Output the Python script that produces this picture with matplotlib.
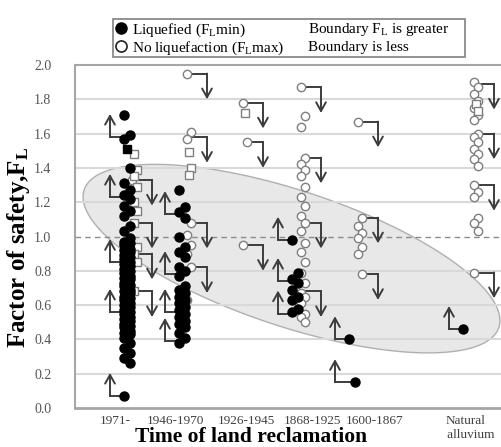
import numpy as np
import matplotlib.pyplot as plt
from matplotlib.lines import Line2D
from matplotlib.patches import Rectangle, Polygon

plt.rcParams['font.family'] = ['Liberation Serif', 'DejaVu Serif']
plt.rcParams['mathtext.fontset'] = 'custom'
plt.rcParams['mathtext.rm'] = 'Liberation Serif'
plt.rcParams['mathtext.it'] = 'Liberation Serif:italic'
plt.rcParams['mathtext.bf'] = 'Liberation Serif:bold'

# categories and where their labels / columns sit on the x axis
categories = ['1971-', '1946-1970', '1926-1945', '1868-1925', '1600-1867', 'Natural\n   alluvium']
label_x = [0.80, 2.00, 3.42, 4.74, 6.00, 7.82]
liq_x = [1.04, 2.14, 3.40, 4.40, 5.54, 7.82]
noliq_x = [1.18, 2.28, 3.40, 4.56, 5.70, 8.02]

# liquefied sites (F_L min), filled circles
liq_vals = [
    [1.71, 1.59, 1.57, 1.40, 1.31, 1.27, 1.24, 1.22, 1.18, 1.15, 1.12, 1.06, 1.03, 0.99,
     0.97, 0.96, 0.95, 0.93, 0.92, 0.91, 0.89, 0.88, 0.87, 0.85, 0.84, 0.83, 0.81, 0.80,
     0.79, 0.77, 0.76, 0.75, 0.73, 0.72, 0.71, 0.69, 0.68, 0.67, 0.65, 0.64, 0.63, 0.61,
     0.60, 0.59, 0.57, 0.56, 0.55, 0.53, 0.52, 0.51, 0.49, 0.48, 0.47, 0.45, 0.44, 0.43,
     0.41, 0.38, 0.35, 0.32, 0.29, 0.26, 0.07],
    [1.27, 1.17, 1.14, 1.11, 1.00, 0.94, 0.91, 0.88, 0.82, 0.80, 0.77, 0.71, 0.69, 0.67,
     0.65, 0.63, 0.61, 0.59, 0.57, 0.55, 0.53, 0.51, 0.49, 0.47, 0.44, 0.41, 0.38],
    [],
    [0.98, 0.79, 0.75, 0.73, 0.69, 0.65, 0.63, 0.58, 0.56],
    [0.40, 0.15],
    [0.46],
]
liq_sq = [[1.51], [], [], [], [], []]

# non-liquefied sites (F_L max), open circles / squares
noliq_vals = [
    [1.33],
    [1.95, 1.61, 1.57, 1.08, 1.01, 0.95, 0.90, 0.82, 0.63],
    [1.78, 1.55, 0.95],
    [1.87, 1.70, 1.64, 1.46, 1.42, 1.39, 1.35, 1.29, 1.23, 1.18, 1.12, 1.08, 1.03, 0.96,
     0.91, 0.85, 0.79, 0.73, 0.67, 0.65, 0.61, 0.55, 0.53, 0.50],
    [1.67, 1.11, 1.06, 1.02, 0.99, 0.94, 0.90, 0.78],
    [1.90, 1.87, 1.83, 1.79, 1.75, 1.71, 1.68, 1.60, 1.58, 1.55, 1.51, 1.48, 1.45, 1.41,
     1.30, 1.26, 1.23, 1.11, 1.08, 1.03, 0.79],
]
noliq_sq = [
    [1.48, 1.39, 1.35, 1.29, 1.20, 1.15, 1.08, 0.94, 0.90, 0.85, 0.68],
    [1.49, 1.40, 1.36],
    [1.72],
    [],
    [],
    [1.77, 1.73],
]

# boundary arrows: "greater" (up, from liquefied) and "less" (down, from non-liquefied)
up_from = [[1.58, 1.23, 0.85, 0.56, 0.07], [1.13, 0.78, 0.56, 0.39], [],
           [0.98, 0.74, 0.55], [0.40, 0.15], [0.46]]
down_from = [[1.33, 1.08, 0.90, 0.68], [1.95, 1.58, 1.08, 0.82], [1.78, 1.55, 0.95],
             [1.87, 1.46, 1.08, 0.68], [1.67, 1.11, 0.78], [1.89, 1.60, 1.30, 0.79]]

fig = plt.figure(figsize=(5.02, 4.47), dpi=100)
ax = fig.add_axes([75 / 502, 39 / 447, 430 / 502, 343 / 447])
ax.set_xlim(0, 8.6)
ax.set_ylim(0, 2.0)

# grey ellipse marking the bulk of the liquefied data
t = np.linspace(0, 2 * np.pi, 300)
th = np.radians(18.3)
a, b = 218.4, 67.7
ex = 4.33 + (a * np.cos(t) * np.cos(th) - b * np.sin(t) * np.sin(th)) / 50.0
ey = 0.871 - (a * np.cos(t) * np.sin(th) + b * np.sin(t) * np.cos(th)) / 171.0
ax.add_patch(Polygon(np.column_stack([ex, ey]), closed=True, fc='#e8e8e8', ec='#b0b0b0',
                     lw=1.0, zorder=1))

for yv in np.arange(0.2, 2.0, 0.2):
    if abs(yv - 1.0) > 1e-6:
        ax.axhline(yv, color='#d9d9d9', lw=1.5, zorder=1.5)
ax.axhline(1.0, color='#8c8c8c', lw=1.0, ls=(0, (4, 3)), zorder=1.6)

arrow_c = '#3c3c3c'
for i in range(len(categories)):
    for v in up_from[i]:
        xs = liq_x[i] - 0.34
        ax.plot([liq_x[i], xs], [v, v], color=arrow_c, lw=1.4, zorder=3)
        ax.annotate('', xy=(xs, v + 0.135), xytext=(xs, v),
                    arrowprops=dict(arrowstyle='->,head_length=0.45,head_width=0.25',
                                    color=arrow_c, lw=1.4, shrinkA=0, shrinkB=0,
                                    mutation_scale=14), zorder=3)
    for v in down_from[i]:
        xs = noliq_x[i] + 0.36
        ax.plot([noliq_x[i], xs], [v, v], color=arrow_c, lw=1.4, zorder=3)
        ax.annotate('', xy=(xs, v - 0.15), xytext=(xs, v),
                    arrowprops=dict(arrowstyle='->,head_length=0.45,head_width=0.25',
                                    color=arrow_c, lw=1.4, shrinkA=0, shrinkB=0,
                                    mutation_scale=14), zorder=3)

    n = len(noliq_vals[i])
    ax.plot(noliq_x[i] + np.resize([-0.04, 0.04], n), noliq_vals[i], 'o', ms=6,
            mfc='white', mec='#7f7f7f', mew=1.0, zorder=4)
    n = len(noliq_sq[i])
    ax.plot(noliq_x[i] + np.resize([0.0, 0.05], n), noliq_sq[i], 's', ms=5.5,
            mfc='white', mec='#7f7f7f', mew=1.0, zorder=4)
    n = len(liq_vals[i])
    ax.plot(liq_x[i] + np.resize([-0.06, 0.06], n), liq_vals[i], 'o', ms=6.5,
            mfc='black', mec='black', zorder=5)
    n = len(liq_sq[i])
    ax.plot(np.full(n, liq_x[i]), liq_sq[i], 's', ms=6, mfc='black', mec='black', zorder=5)

ax.set_yticks(np.arange(0, 2.01, 0.2))
ax.set_yticklabels(['%.1f' % v for v in np.arange(0, 2.01, 0.2)])
ax.set_xticks(label_x)
ax.set_xticklabels(categories)
ax.tick_params(axis='y', length=0, pad=17, labelsize=10, labelcolor='#555555')
ax.tick_params(axis='x', length=0, pad=5, labelsize=9.5, labelcolor='#404040')

for s in ['left', 'top']:
    ax.spines[s].set_color('#a6a6a6')
    ax.spines[s].set_linewidth(1.5)
ax.spines['bottom'].set_color('#a6a6a6')
ax.spines['bottom'].set_linewidth(2.0)
ax.spines['right'].set_visible(False)

fig.text(19 / 502, 1 - 247 / 447, r'Factor of safety,F$_{\mathbf{L}}$', rotation=90,
         ha='center', va='center', fontsize=18, fontweight='bold')
fig.text(251 / 502, 1 - 437 / 447, 'Time of land reclamation', ha='center', va='center',
         fontsize=15.5, fontweight='bold')

# legend box
handles = [Line2D([], [], ls='', marker='o', ms=8, mfc='black', mec='black'),
           Line2D([], [], ls='', marker='o', ms=8, mfc='white', mec='#222222', mew=1.2)]
fig.legend(handles, [r'Liquefied (F$_\mathrm{L}$min)', r'No liquefaction (F$_\mathrm{L}$max)'],
           loc='center left', bbox_to_anchor=(113 / 502, 1 - 39 / 447), frameon=False,
           fontsize=11, handlelength=0.9, handletextpad=0.25, labelspacing=0.05,
           borderpad=0.1, borderaxespad=0)
fig.text(308 / 502, 1 - 30 / 447, r'Boundary F$_\mathrm{L}$ is greater', va='center', fontsize=11)
fig.text(308 / 502, 1 - 48 / 447, 'Boundary is less', va='center', fontsize=11)
fig.add_artist(Rectangle((113 / 502, 1 - 57 / 447), 352 / 502, 38 / 447,
                         transform=fig.transFigure, fill=False, ec='#8a8a8a', lw=1.3))

fig.savefig('out.png', dpi=100)
